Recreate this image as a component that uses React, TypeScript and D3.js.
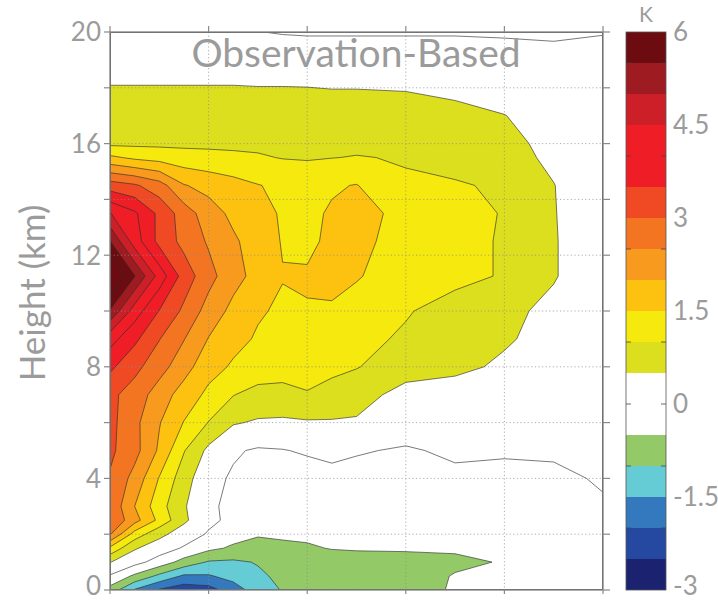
import React from "react";
import * as d3 from "d3";

// Grid columns (radius, km) and rows (height, km) of the temperature anomaly field
const radius = [0, 50, 100, 150, 200, 250, 300, 350, 400, 450, 500, 600, 700, 800, 900, 1000];
const heights = [0, 0.5, 1, 1.5, 2, 2.5, 3, 4, 5, 6, 7, 8, 9, 10, 11.25, 12.5, 13.5, 14.5, 15.5, 16, 17, 18, 19, 20];

// Temperature anomaly (K); one row per height, bottom to top
const anomaly: number[][] = [
  [-0.7, -1.55, -2.05, -2.3, -2.2, -1.75, -1.25, -0.97, -0.9, -0.85, -0.8, -0.7, -0.45, -0.35, -0.3, -0.3],
  [-0.05, -0.6, -1.12, -1.58, -1.55, -1.32, -1.08, -0.9, -0.82, -0.78, -0.72, -0.65, -0.48, -0.32, -0.28, -0.25],
  [0.52, 0.17, -0.21, -0.69, -1.05, -1.08, -0.97, -0.82, -0.75, -0.7, -0.67, -0.62, -0.56, -0.48, -0.32, -0.25],
  [1.4, 0.55, 0.24, -0.05, -0.38, -0.58, -0.62, -0.57, -0.55, -0.48, -0.46, -0.46, -0.46, -0.4, -0.3, -0.25],
  [2.55, 1.29, 0.63, 0.26, -0.05, -0.3, -0.47, -0.45, -0.42, -0.38, -0.36, -0.35, -0.35, -0.33, -0.28, -0.2],
  [2.95, 2.19, 1.37, 0.59, 0.11, -0.12, -0.3, -0.35, -0.37, -0.36, -0.35, -0.35, -0.33, -0.33, -0.25, -0.1],
  [2.9, 2.0, 1.2, 0.55, 0.07, -0.1, -0.2, -0.25, -0.28, -0.3, -0.3, -0.3, -0.28, -0.28, -0.2, -0.05],
  [2.95, 2.33, 1.47, 0.72, 0.12, -0.05, -0.1, -0.12, -0.2, -0.12, -0.16, -0.2, -0.1, -0.12, -0.1, 0.05],
  [3.1, 2.67, 1.92, 1.03, 0.38, 0.05, -0.05, -0.02, 0.05, 0.1, 0.04, -0.05, 0.08, 0.05, 0.07, 0.1],
  [3.15, 2.63, 2.03, 1.48, 0.98, 0.54, 0.45, 0.43, 0.45, 0.45, 0.43, 0.25, 0.2, 0.15, 0.15, 0.15],
  [3.12, 2.78, 2.26, 1.78, 1.39, 1.02, 0.8, 0.8, 0.97, 0.88, 0.75, 0.28, 0.3, 0.3, 0.25, 0.2],
  [3.6, 3.14, 2.7, 2.2, 1.68, 1.44, 1.35, 1.26, 1.17, 1.08, 1.02, 0.78, 0.6, 0.43, 0.3, 0.2],
  [4.2, 3.61, 3.02, 2.52, 1.98, 1.64, 1.45, 1.36, 1.27, 1.19, 1.1, 0.95, 0.78, 0.55, 0.35, 0.2],
  [5.45, 4.25, 3.48, 2.9, 2.3, 1.86, 1.55, 1.43, 1.47, 1.45, 1.35, 1.03, 0.85, 0.6, 0.4, 0.2],
  [6.75, 5.52, 4.3, 3.28, 2.67, 2.18, 1.83, 1.52, 1.55, 1.62, 1.53, 1.3, 1.1, 0.97, 0.53, 0.2],
  [5.52, 4.25, 3.35, 2.85, 2.44, 2.08, 1.76, 1.47, 1.4, 1.6, 1.6, 1.35, 1.1, 0.97, 0.53, 0.2],
  [4.52, 4.08, 3.38, 2.76, 2.23, 1.88, 1.66, 1.45, 1.4, 1.55, 1.62, 1.4, 1.18, 0.97, 0.52, 0.2],
  [3.25, 3.07, 2.72, 2.03, 1.84, 1.68, 1.52, 1.4, 1.33, 1.45, 1.52, 1.05, 1.04, 0.94, 0.51, 0.2],
  [1.6, 1.4, 1.3, 1.2, 1.15, 1.1, 1.05, 0.98, 0.96, 0.99, 1.02, 0.97, 0.85, 0.65, 0.42, 0.2],
  [0.9, 0.9, 0.9, 0.9, 0.9, 0.9, 0.9, 0.88, 0.88, 0.9, 0.9, 0.88, 0.8, 0.62, 0.38, 0.2],
  [0.7, 0.7, 0.7, 0.7, 0.7, 0.7, 0.7, 0.7, 0.7, 0.7, 0.7, 0.7, 0.62, 0.51, 0.3, 0.2],
  [0.52, 0.52, 0.52, 0.52, 0.52, 0.52, 0.51, 0.51, 0.505, 0.49, 0.49, 0.47, 0.4, 0.3, 0.2, 0.15],
  [0.3, 0.3, 0.3, 0.3, 0.3, 0.3, 0.3, 0.3, 0.3, 0.3, 0.3, 0.3, 0.3, 0.25, 0.2, 0.15],
  [0.1, 0.1, 0.1, 0.08, 0.05, 0.03, 0.01, -0.03, -0.05, -0.05, -0.05, -0.05, -0.05, -0.07, -0.1, -0.02],
];

// Contour levels (K) and the fill colour of each band [level, level + 0.5)
const levels = [-3, -2.5, -2, -1.5, -1, -0.5, 0, 0.5, 1, 1.5, 2, 2.5, 3, 3.5, 4, 4.5, 5, 5.5, 6];
const bandColors = [
  "#1b2270", "#2549a0", "#3479be", "#65cbd5", "#93c966", "#ffffff",
  "#ffffff", "#dcdf1d", "#f6e90d", "#fdc210", "#f79a1e", "#f47521",
  "#ef4a24", "#ee1d26", "#ee1d26", "#cc1f27", "#9e1b21", "#6c0b10",
];

const heightTicks = [0, 4, 8, 12, 16, 20];
const heightAllTicks = [0, 2, 4, 6, 8, 10, 12, 14, 16, 18, 20];
const radiusTicks = [0, 200, 400, 600, 800, 1000];
const colorbarLabels = [6, 4.5, 3, 1.5, 0, -1.5, -3];
const colorbarTicks = [5.5, 4, 2.5, 1, 0, -1, -2];

const W = 718;
const H = 600;
const plot = { left: 110, right: 603, top: 32, bottom: 590 };
const bar = { left: 626, right: 666 };
const FONT = "Lato, 'Open Sans', sans-serif";
const TEXT = "#9b9b9b";
const FRAME = "#8a8a8a";

export default function App() {
  const x = d3.scaleLinear().domain([0, 1000]).range([plot.left, plot.right]);
  const y = d3.scaleLinear().domain([0, 20]).range([plot.bottom, plot.top]);
  const cb = d3.scaleLinear().domain([-3, 6]).range([plot.bottom, plot.top]);

  const nx = radius.length;
  const ny = heights.length;
  const colAt = d3.scaleLinear().domain(d3.range(nx)).range(radius);
  const rowAt = d3.scaleLinear().domain(d3.range(ny)).range(heights);
  const clamp = (v: number, lo: number, hi: number) => Math.max(lo, Math.min(hi, v));

  // grid coordinates from d3.contours -> data -> pixels
  const project = (p: number[]) => [
    x(colAt(clamp(p[0] - 0.5, 0, nx - 1))),
    y(rowAt(clamp(p[1] - 0.5, 0, ny - 1))),
  ];

  const contours = d3.contours().size([nx, ny]).thresholds(levels)(anomaly.flat());

  const toPath = (mp: any) =>
    mp.coordinates
      .map((poly: number[][][]) =>
        poly
          .map(
            (ring) =>
              "M" +
              ring
                .map((pt) => {
                  const q = project(pt);
                  return q[0].toFixed(2) + "," + q[1].toFixed(2);
                })
                .join("L") +
              "Z"
          )
          .join("")
      )
      .join("");

  const paths = contours.map((c: any, i: number) => ({
    d: toPath(c),
    fill: bandColors[Math.min(i, bandColors.length - 1)],
    value: c.value,
  }));

  const plotW = plot.right - plot.left;
  const plotH = plot.bottom - plot.top;

  // keep the lowest labels inside the canvas
  const labelY = (py: number) => Math.min(py, H - 14);

  return (
    <svg
      width={W}
      height={H}
      viewBox={`0 0 ${W} ${H}`}
      style={{ position: "absolute", left: 0, top: 0, background: "#fff" }}
    >
      <defs>
        <clipPath id="plot-clip">
          <rect x={plot.left} y={plot.top} width={plotW} height={plotH} />
        </clipPath>
      </defs>

      {/* filled bands */}
      <g clipPath="url(#plot-clip)">
        {paths.map((p, i) => (
          <path key={"f" + i} d={p.d} fill={p.fill} stroke="none" />
        ))}
      </g>

      {/* dotted grid */}
      <g stroke="#8c8c8c" strokeWidth={1} strokeDasharray="1.2,2.4" opacity={0.7}>
        {radiusTicks.slice(1, -1).map((r) => (
          <line key={"gx" + r} x1={x(r)} x2={x(r)} y1={plot.top} y2={plot.bottom} />
        ))}
        {heightAllTicks.slice(1, -1).map((h) => (
          <line key={"gy" + h} x1={plot.left} x2={plot.right} y1={y(h)} y2={y(h)} />
        ))}
      </g>

      {/* contour lines */}
      <g clipPath="url(#plot-clip)" fill="none" stroke="#2e2e2e" strokeWidth={0.75} strokeOpacity={0.85}>
        {paths.map((p, i) => (
          <path key={"l" + i} d={p.d} />
        ))}
      </g>

      {/* frame and ticks */}
      <rect
        x={plot.left}
        y={plot.top}
        width={plotW}
        height={plotH}
        fill="none"
        stroke={FRAME}
        strokeWidth={1.4}
      />
      <g stroke={FRAME} strokeWidth={1.2}>
        {heightAllTicks.map((h) => (
          <g key={"t" + h}>
            <line x1={plot.left - 6} x2={plot.left} y1={y(h)} y2={y(h)} />
            <line x1={plot.right} x2={plot.right + 7} y1={y(h)} y2={y(h)} />
          </g>
        ))}
        {radiusTicks.map((r) => (
          <g key={"tx" + r}>
            <line x1={x(r)} x2={x(r)} y1={plot.top - 6} y2={plot.top} />
            <line x1={x(r)} x2={x(r)} y1={plot.bottom} y2={plot.bottom + 4} />
          </g>
        ))}
      </g>

      {/* height tick labels */}
      <g fontFamily={FONT} fontSize={26} fill={TEXT} textAnchor="end">
        {heightTicks.map((h) => (
          <text key={"yl" + h} x={plot.left - 9} y={labelY(y(h))} dy="0.36em">
            {h}
          </text>
        ))}
      </g>

      <text
        transform={`translate(45, 293) rotate(-90)`}
        textAnchor="middle"
        fontFamily={FONT}
        fontSize={35}
        fill={TEXT}
      >
        Height (km)
      </text>

      <text
        x={356}
        y={67}
        textAnchor="middle"
        fontFamily={FONT}
        fontSize={39}
        fill={TEXT}
      >
        Observation-Based
      </text>

      {/* colour bar */}
      <g>
        {bandColors.map((c, i) => (
          <rect
            key={"cb" + i}
            x={bar.left}
            width={bar.right - bar.left}
            y={cb(levels[i + 1])}
            height={cb(levels[i]) - cb(levels[i + 1])}
            fill={c}
          />
        ))}
        <rect
          x={bar.left}
          y={plot.top}
          width={bar.right - bar.left}
          height={plotH}
          fill="none"
          stroke="#555"
          strokeWidth={0.8}
        />
        <g stroke="#444" strokeWidth={0.8}>
          {colorbarTicks.map((v) => (
            <g key={"cbt" + v}>
              <line x1={bar.left} x2={bar.left + 5} y1={cb(v)} y2={cb(v)} />
              <line x1={bar.right - 5} x2={bar.right} y1={cb(v)} y2={cb(v)} />
            </g>
          ))}
        </g>
        <g fontFamily={FONT} fontSize={26} fill={TEXT}>
          {colorbarLabels.map((v) => (
            <text key={"cbl" + v} x={bar.right + 7} y={labelY(cb(v))} dy="0.36em">
              {v}
            </text>
          ))}
        </g>
        <text x={(bar.left + bar.right) / 2} y={22} textAnchor="middle" fontFamily={FONT} fontSize={21} fill={TEXT}>
          K
        </text>
      </g>
    </svg>
  );
}
